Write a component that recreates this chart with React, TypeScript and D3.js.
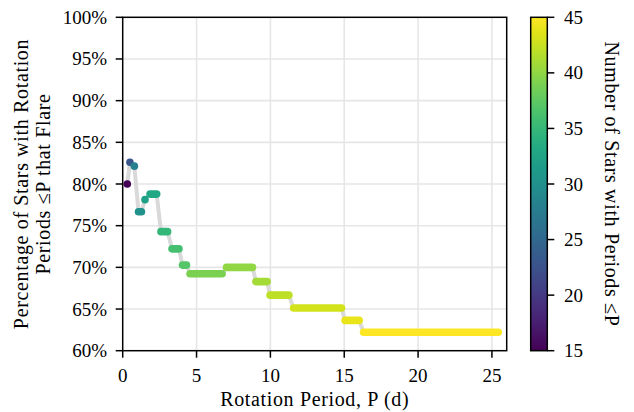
import React from "react";
import * as d3 from "d3";

// Step segments: period range (d) over which a given count applies
const periodStart = [0.31, 0.49, 0.79, 1.07, 1.51, 1.85, 2.59, 3.34, 4.05, 4.56, 7.03, 9.02, 9.98, 11.57, 15.06, 16.31];
const periodEnd = [0.31, 0.49, 0.79, 1.27, 1.51, 2.30, 3.04, 3.81, 4.32, 6.73, 8.79, 9.78, 11.25, 14.82, 16.01, 25.43];
const flaringStars = [12, 19, 23, 23, 25, 26, 26, 26, 26, 27, 28, 28, 28, 28, 28, 28];
const totalStars = [15, 23, 28, 30, 32, 33, 35, 36, 37, 39, 40, 41, 42, 43, 44, 45];

const xTicks = [0, 5, 10, 15, 20, 25];
const yTicks = [60, 65, 70, 75, 80, 85, 90, 95, 100];
const cbTicks = [15, 20, 25, 30, 35, 40, 45];

const W = 634;
const H = 412;
const L = 122.7, R = 506.7, T = 17.3, B = 350.7;
const CBL = 530.7, CBR = 547.3;
const FONT = "'Liberation Serif', 'DejaVu Serif', serif";
const FS = 19;
const LFS = 20;
const LS = 0.65;

export default function App() {
  const x = d3.scaleLinear().domain([0, 26]).range([L, R]);
  const y = d3.scaleLinear().domain([60, 100]).range([B, T]);
  const cScale = d3.scaleLinear().domain([15, 45]).range([B, T]);
  const color = (n: number) => d3.interpolateViridis((n - 15) / 30);

  const segs = periodStart.map((s, i) => ({
    s,
    e: periodEnd[i],
    pct: (flaringStars[i] / totalStars[i]) * 100,
    n: totalStars[i],
  }));

  const pts: [number, number][] = [];
  segs.forEach((d) => {
    pts.push([d.s, d.pct]);
    if (d.e !== d.s) pts.push([d.e, d.pct]);
  });
  const line = d3.line<[number, number]>().x((d) => x(d[0])).y((d) => y(d[1]));

  const stops = d3.range(0, 1.0001, 0.05);

  return (
    <svg
      width={W}
      height={H}
      style={{ position: "absolute", left: 0, top: 0, background: "#fff" }}
      fontFamily={FONT}
      fontSize={FS}
    >
      <defs>
        <linearGradient id="vir" x1="0" y1="1" x2="0" y2="0">
          {stops.map((t, i) => (
            <stop key={i} offset={t} stopColor={d3.interpolateViridis(t)} />
          ))}
        </linearGradient>
        <clipPath id="plotclip">
          <rect x={L} y={T} width={R - L} height={B - T} />
        </clipPath>
      </defs>

      {/* grid */}
      {xTicks.slice(1).map((t) => (
        <line key={"gx" + t} x1={x(t)} x2={x(t)} y1={T} y2={B} stroke="#e6e6e6" strokeWidth={1.6} />
      ))}
      {yTicks.slice(1, -1).map((t) => (
        <line key={"gy" + t} x1={L} x2={R} y1={y(t)} y2={y(t)} stroke="#e6e6e6" strokeWidth={1.6} />
      ))}

      {/* connecting line */}
      <path d={line(pts) || ""} fill="none" stroke="#d9d9d9" strokeWidth={4} strokeLinejoin="round" clipPath="url(#plotclip)" />

      {/* markers as pills */}
      {segs.map((d, i) => (
        <line
          key={"s" + i}
          x1={x(d.s)}
          x2={x(d.e)}
          y1={y(d.pct)}
          y2={y(d.pct)}
          stroke={color(d.n)}
          strokeWidth={7.6}
          strokeLinecap="round"
        />
      ))}

      {/* axes frame */}
      <rect x={L} y={T} width={R - L} height={B - T} fill="none" stroke="#000" strokeWidth={1.5} />

      {/* y ticks */}
      {yTicks.map((t) => (
        <g key={"yt" + t}>
          <line x1={L - 7} x2={L} y1={y(t)} y2={y(t)} stroke="#000" strokeWidth={1.5} />
          <text x={107} y={y(t) + 6.5} textAnchor="end">
            {t}%
          </text>
        </g>
      ))}

      {/* x ticks */}
      {xTicks.map((t) => (
        <g key={"xt" + t}>
          <line x1={x(t)} x2={x(t)} y1={B} y2={B + 7} stroke="#000" strokeWidth={1.5} />
          <text x={x(t)} y={382} textAnchor="middle">
            {t}
          </text>
        </g>
      ))}

      <text x={(L + R) / 2} y={406} textAnchor="middle" fontSize={LFS} letterSpacing={LS}>
        Rotation Period, P (d)
      </text>

      <g transform={`translate(28, ${(T + B) / 2}) rotate(-90)`}>
        <text x={0} y={0} textAnchor="middle" fontSize={LFS} letterSpacing={LS}>
          Percentage of Stars with Rotation
        </text>
      </g>
      <g transform={`translate(50, ${(T + B) / 2}) rotate(-90)`}>
        <text x={0} y={0} textAnchor="middle" fontSize={LFS} letterSpacing={LS}>
          Periods ≤P that Flare
        </text>
      </g>

      {/* colorbar */}
      <rect x={CBL} y={T} width={CBR - CBL} height={B - T} fill="url(#vir)" stroke="#000" strokeWidth={1.5} />
      {cbTicks.map((t) => (
        <g key={"ct" + t}>
          <line x1={CBR} x2={CBR + 7} y1={cScale(t)} y2={cScale(t)} stroke="#000" strokeWidth={1.5} />
          <text x={564} y={cScale(t) + 6.5} textAnchor="start">
            {t}
          </text>
        </g>
      ))}
      <g transform={`translate(605, ${(T + B) / 2}) rotate(90)`}>
        <text x={0} y={0} textAnchor="middle" fontSize={LFS} letterSpacing={LS}>
          Number of Stars with Periods ≤P
        </text>
      </g>
    </svg>
  );
}
